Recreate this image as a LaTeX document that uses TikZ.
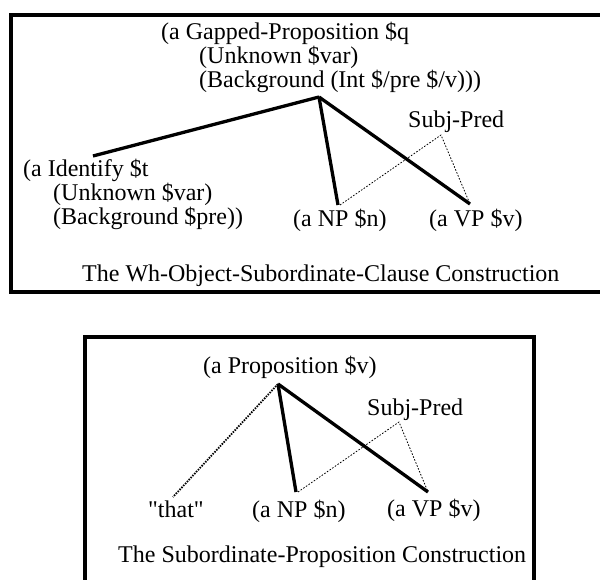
\documentclass[tikz,border=0pt]{standalone}
\usepackage{fontspec}
\setmainfont{Liberation Serif}[Ligatures=TeXOff]

\begin{document}
\begin{tikzpicture}[x=1pt,y=-1pt,
  lbl/.style={inner sep=0pt,anchor=base west,align=left,font=\fontsize{24}{24}\selectfont},
  branch/.style={line width=3.3pt},
  faint/.style={line width=0.8pt,dash pattern=on 1.6pt off 1.6pt},
  cue/.style={line width=1.8pt,dash pattern=on 1.5pt off 1.2pt},
  frame/.style={line width=3.6pt}]
\useasboundingbox (0,0) rectangle (600,580);

% Upper construction (base anchor = last line)
\draw[frame] (602,15) -- (11,15) -- (11,292) -- (602,292);
\node[lbl] (gapped) at (161,88) {(a Gapped-Proposition \$q\\\hspace*{38pt}(Unknown \$var)\\\hspace*{38pt}(Background (Int \$/pre \$/v)))};
\node[lbl] (identify) at (23,225) {(a Identify \$t\\\hspace*{30pt}(Unknown \$var)\\\hspace*{30pt}(Background \$pre))};
\node[lbl] (npTop) at (293,227) {(a NP \$n)};
\node[lbl] (vpTop) at (429,227) {(a VP \$v)};
\node[lbl] (sjTop) at (408,128) {Subj-Pred};
\node[lbl] (whTitle) at (82,281) {The Wh-Object-Subordinate-Clause Construction};

\coordinate (gappedApex) at (319,97);
\coordinate (identifyEnd) at (93,156);
\coordinate (npTopEnd) at (338,205);
\coordinate (vpTopEnd) at (470,204);
\coordinate (sjTopApex) at (441,135);

\draw[branch] (gappedApex) -- (identifyEnd);
\draw[branch] (gappedApex) -- (npTopEnd);
\draw[branch] (gappedApex) -- (vpTopEnd);
\draw[faint] ([xshift=2pt]npTopEnd) -- (sjTopApex) -- (vpTopEnd);

% Lower construction
\draw[frame] (85,583) -- (85,337) -- (534,337) -- (534,583);
\node[lbl] (prop) at (203,373) {(a Proposition \$v)};
\node[lbl] (that) at (148,517) {"that"};
\node[lbl] (npBot) at (252,517) {(a NP \$n)};
\node[lbl] (vpBot) at (387,516) {(a VP \$v)};
\node[lbl] (sjBot) at (367,415) {Subj-Pred};
\node[lbl] (subTitle) at (118,562) {The Subordinate-Proposition Construction};

\coordinate (propApex) at (278,384);
\coordinate (thatEnd) at (173,497);
\coordinate (npBotEnd) at (296,492);
\coordinate (vpBotEnd) at (428,492);
\coordinate (sjBotApex) at (399,422);

\draw[cue] (propApex) -- (thatEnd);
\draw[branch] (propApex) -- (npBotEnd);
\draw[branch] (propApex) -- (vpBotEnd);
\draw[faint] ([xshift=2pt]npBotEnd) -- (sjBotApex) -- (vpBotEnd);

\end{tikzpicture}
\end{document}
